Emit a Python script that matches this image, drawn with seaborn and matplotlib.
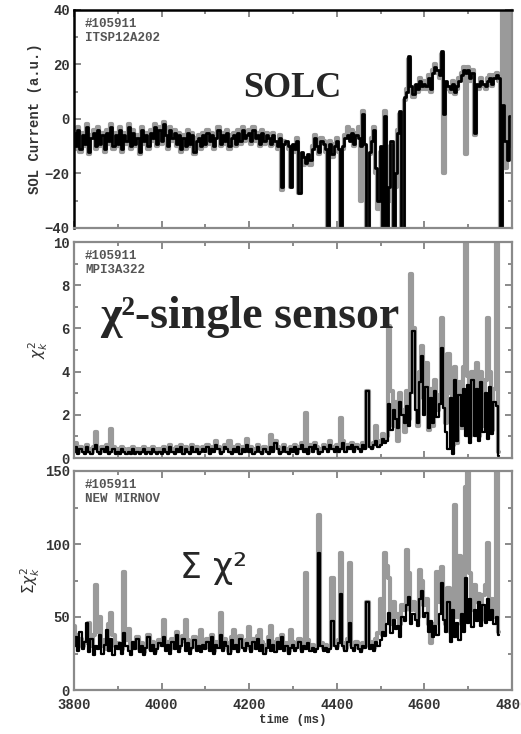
import numpy as np
import pandas as pd
import matplotlib
matplotlib.use("Agg")
import matplotlib.pyplot as plt
import seaborn as sns
from matplotlib.ticker import MultipleLocator

# ---------------- data ----------------
# time grid in ms (5 ms sampling)
time_top = np.arange(3800, 4800, 5)
time_low = np.arange(3800, 4775, 5)

# SOL current (a.u.) - black trace
solc_black = [
    -5, -10, -4, -11, -6, -9, -3, -12, -7, -5, -10, -4, -9, -6, -11, -5, -8, -3, -10, -6,
    -9, -4, -11, -6, -8, -3, -10, -5, -9, -7, -12, -4, -8, -6, -10, -5, -7, -3, -9, -4,
    -8, -2, -6, -10, -4, -7, -5, -9, -6, -11, -7, -10, -5, -9, -6, -12, -8, -7, -10, -6,
    -9, -5, -8, -6, -10, -7, -4, -9, -6, -8, -5, -10, -7, -6, -9, -5, -8, -4, -7, -6,
    -5, -8, -4, -7, -6, -9, -5, -8, -6, -7, -9, -6, -8, -10, -7, -25, -9, -8, -10, -25,
    -9, -11, -8, -27, -12, -14, -16, -13, -15, -11, -7, -10, -12, -8, -9, -11, -40, -9, -13, -10,
    -8, -11, -40, -10, -7, -6, -8, -5, -9, -6, -7, -10, 2, -9, -40, -12, -8, -4, -18, -30,
    -10, -40, 1, -40, -25, -8, -40, -20, -5, 3, -40, 8, 10, 23, 12, 9, 13, 11, 14, 12,
    13, 12, 15, 11, 17, 19, 18, 16, 25, 2, 14, 12, 11, 13, 10, 12, 14, 16, 18, 17,
    18, 15, 17, -5, 13, 12, 14, 13, 12, 14, 15, 13, 15, 16, 15, -40, 5, -8, -15, 1,
]
# SOL current - grey trace
solc_grey = [
    -4, -11, -3, -12, -5, -10, -2, -13, -6, -4, -11, -3, -10, -5, -12, -4, -9, -2, -11, -5,
    -10, -3, -12, -5, -9, -2, -11, -4, -10, -6, -13, -3, -9, -5, -11, -4, -8, -2, -10, -3,
    -9, -1, -5, -11, -3, -8, -4, -10, -5, -12, -6, -11, -4, -10, -5, -13, -7, -6, -11, -5,
    -10, -4, -9, -5, -11, -6, -3, -10, -5, -9, -4, -11, -6, -5, -10, -4, -9, -3, -8, -5,
    -4, -9, -3, -8, -5, -10, -4, -9, -5, -6, -10, -5, -9, -11, -6, -26, -8, -9, -11, -25,
    -10, -12, -7, -27, -13, -17, -15, -14, -17, -10, -6, -11, -13, -7, -8, -12, -40, -8, -14, -9,
    -7, -12, -40, -11, -6, -3, -7, -4, -10, -5, -3, -30, 3, -10, -40, -13, -7, -3, -20, -33,
    -12, -40, 3, -40, -30, -10, -40, -25, -4, 2, -40, 7, 11, 22, 10, 8, 12, 10, 15, 11,
    14, 11, 16, 10, 18, 20, 17, 15, 24, -20, 13, 11, 10, 14, 9, 11, 15, 17, 19, -13,
    19, 14, 18, -6, 12, 11, 15, 12, 11, 15, 16, 12, 16, 17, 14, -40, 40, -18, 40, -10,
]

# chi^2 single sensor - black trace
chi_black = [
    0.3, 0.5, 0.2, 0.4, 0.3, 0.2, 0.5, 0.3, 0.2, 0.4, 0.6, 0.3, 0.2, 0.4, 0.3, 0.5, 0.2, 0.3, 0.4, 0.2,
    0.3, 0.2, 0.4, 0.3, 0.2, 0.3, 0.2, 0.4, 0.2, 0.3, 0.2, 0.3, 0.4, 0.2, 0.3, 0.2, 0.4, 0.3, 0.2, 0.3,
    0.2, 0.4, 0.3, 0.2, 0.5, 0.3, 0.2, 0.4, 0.3, 0.5, 0.2, 0.4, 0.3, 0.2, 0.5, 0.3, 0.4, 0.2, 0.3, 0.4,
    0.3, 0.5, 0.2, 0.4, 0.3, 0.6, 0.4, 0.2, 0.3, 0.5, 0.4, 0.3, 0.2, 0.4, 0.3, 0.5, 0.2, 0.4, 0.3, 0.6,
    0.3, 0.4, 0.2, 0.3, 0.5, 0.3, 0.2, 0.4, 0.3, 0.2, 0.5, 0.3, 0.7, 0.4, 0.2, 0.3, 0.5, 0.3, 0.2, 0.4,
    0.3, 0.5, 0.2, 0.4, 0.6, 0.3, 0.4, 0.2, 0.5, 0.3, 0.6, 0.4, 0.2, 0.3, 0.5, 0.4, 0.3, 0.6, 0.4, 0.3,
    0.5, 0.3, 0.4, 0.7, 0.3, 0.5, 0.4, 0.6, 0.3, 0.5, 0.4, 0.3, 0.6, 0.4, 3.1, 0.5, 0.4, 0.6, 0.8, 0.5,
    0.6, 0.9, 0.7, 0.8, 2.5, 1.3, 2.2, 1.8, 1.4, 2.6, 2.0, 1.6, 2.4, 1.5, 3.0, 5.9, 2.2, 1.6, 3.5, 4.7,
    2.0, 3.3, 1.4, 2.8, 1.6, 3.1, 1.9, 2.5, 5.1, 2.3, 1.2, 0.4, 2.8, 0.2, 3.6, 0.8, 2.9, 1.5, 3.2, 1.0,
    3.4, 0.7, 3.6, 1.0, 3.2, 0.8, 3.5, 1.2, 3.0, 0.9, 3.3, 1.1, 2.6, 2.4, 0.1,
]
# chi^2 single sensor - grey trace
chi_grey = [
    0.4, 0.7, 0.3, 0.5, 0.4, 0.3, 0.6, 0.4, 0.3, 0.5, 1.2, 0.4, 0.3, 0.5, 0.4, 0.6, 0.3, 1.35, 0.5, 0.3,
    0.4, 0.3, 0.5, 0.4, 0.3, 0.4, 0.3, 0.5, 0.3, 0.4, 0.3, 0.4, 0.5, 0.3, 0.4, 0.3, 0.5, 0.4, 0.3, 0.4,
    0.3, 0.5, 0.4, 0.3, 0.6, 0.4, 0.3, 0.5, 0.4, 0.6, 0.3, 0.5, 0.4, 0.3, 0.6, 0.4, 0.5, 0.3, 0.4, 0.5,
    0.4, 0.6, 0.3, 0.5, 0.4, 0.8, 0.5, 0.3, 0.4, 0.6, 0.5, 0.8, 0.3, 0.5, 0.4, 0.6, 0.3, 0.5, 0.4, 0.9,
    0.4, 0.5, 0.3, 0.4, 0.6, 0.4, 0.3, 0.5, 0.4, 0.3, 1.05, 0.4, 0.8, 0.5, 0.3, 0.4, 0.6, 0.4, 0.3, 0.5,
    0.4, 0.6, 0.3, 0.5, 0.7, 0.4, 2.1, 0.3, 0.6, 0.4, 0.7, 0.5, 0.3, 0.4, 0.6, 0.5, 0.4, 0.8, 0.5, 0.4,
    0.6, 0.4, 1.85, 0.8, 0.4, 0.6, 0.5, 0.7, 0.4, 0.6, 0.5, 0.4, 0.7, 0.5, 3.1, 0.6, 0.5, 0.7, 1.5, 0.6,
    0.8, 1.1, 0.9, 1.0, 6.1, 3.1, 1.5, 2.6, 0.8, 3.0, 2.2, 1.2, 3.1, 1.8, 8.5, 6.0, 3.0, 1.5, 4.0, 5.2,
    2.8, 4.4, 1.3, 3.2, 1.5, 3.6, 2.2, 2.9, 6.5, 2.8, 1.6, 4.8, 3.0, 0.6, 4.2, 0.7, 3.5, 1.4, 4.2, 10.0,
    3.8, 1.0, 4.0, 1.2, 4.4, 1.0, 4.0, 1.5, 3.6, 6.5, 4.0, 1.3, 3.2, 10.0, 0.3,
]

# sum chi^2 (Mirnov array) - black trace
sum_black = [
    30, 36, 27, 40, 28, 33, 46, 26, 35, 24, 30, 28, 38, 25, 31, 41, 27, 35, 24, 30,
    28, 32, 25, 39, 30, 27, 24, 33, 28, 35, 26, 30, 24, 29, 36, 27, 31, 25, 28, 32,
    30, 36, 27, 31, 25, 33, 28, 38, 26, 30, 35, 27, 32, 25, 29, 34, 27, 30, 26, 31,
    28, 33, 27, 36, 25, 31, 29, 38, 27, 33, 30, 25, 34, 28, 31, 26, 35, 29, 27, 32,
    30, 26, 33, 28, 35, 27, 31, 25, 29, 34, 27, 31, 26, 33, 28, 36, 27, 30, 25, 29,
    31, 27, 29, 33, 26, 30, 28, 32, 27, 29, 26, 28, 94, 30, 27, 29, 26, 28, 47, 30,
    28, 32, 66, 30, 27, 33, 46, 29, 27, 31, 28, 26, 30, 29, 60, 28, 31, 27, 33, 30,
    34, 40, 37, 45, 53, 39, 48, 42, 44, 36, 50, 47, 58, 64, 45, 52, 48, 44, 62, 68,
    50, 53, 40, 47, 36, 44, 38, 52, 73, 48, 40, 60, 33, 55, 36, 46, 34, 52, 40, 77,
    46, 62, 43, 55, 47, 60, 44, 58, 46, 62, 48, 55, 45, 50, 38,
]
# sum chi^2 - grey trace
sum_grey = [
    44, 38, 30, 35, 30, 32, 33, 46, 30, 38, 72, 40, 50, 30, 34, 28, 45, 53, 38, 30,
    32, 30, 28, 81, 34, 42, 28, 32, 30, 36, 28, 32, 26, 30, 38, 28, 33, 27, 30, 34,
    32, 48, 30, 33, 28, 35, 30, 40, 29, 33, 37, 48, 34, 28, 31, 36, 29, 32, 41, 33,
    30, 35, 29, 38, 27, 33, 31, 53, 29, 35, 32, 27, 36, 41, 33, 28, 37, 31, 29, 34,
    43, 28, 35, 30, 37, 41, 33, 27, 31, 36, 44, 33, 28, 35, 30, 38, 29, 32, 27, 41,
    33, 29, 31, 35, 28, 32, 80, 34, 29, 31, 28, 30, 120, 32, 29, 31, 28, 30, 77, 32,
    30, 34, 94, 32, 29, 35, 87, 31, 29, 33, 30, 28, 32, 31, 60, 30, 33, 29, 35, 39,
    62, 38, 94, 85, 77, 45, 60, 50, 52, 45, 58, 55, 96, 80, 55, 60, 55, 50, 82, 75,
    58, 62, 45, 32, 40, 45, 81, 60, 84, 55, 45, 70, 40, 60, 127, 50, 92, 45, 60, 139,
    150, 80, 55, 72, 60, 66, 48, 65, 72, 101, 55, 62, 50, 150, 40,
]

shot_label = "#105911"
panel_ids = ["ITSP12A202", "MPI3A322", "NEW MIRNOV"]
overlay_titles = ["SOLC", "χ²-single sensor", "Σ χ²"]
ylabels = ["SOL Current (a.u.)", r"$\chi_k^2$", r"$\Sigma\chi_k^2$"]
xticks = [3800, 4000, 4200, 4400, 4600, 4800]
yticks_top = [-40, -20, 0, 20, 40]
yticks_mid = [0, 2, 4, 6, 8, 10]
yticks_bot = [0, 50, 100, 150]

# ---------------- figure ----------------
sns.set_style("ticks")
plt.rcParams["font.family"] = ["Liberation Mono", "DejaVu Sans"]
plt.rcParams["mathtext.fontset"] = "dejavusans"

fig = plt.figure(figsize=(5.21, 7.34), dpi=100)
L, W = 74 / 521, 438 / 521
ax1 = fig.add_axes([L, 1 - 228 / 734, W, 218 / 734])
ax2 = fig.add_axes([L, 1 - 458 / 734, W, 216 / 734])
ax3 = fig.add_axes([L, 1 - 690 / 734, W, 219 / 734])

grey = "#9a9a9a"
df1 = pd.DataFrame({"t": time_top, "black": solc_black, "grey": solc_grey})
df2 = pd.DataFrame({"t": time_low, "black": chi_black, "grey": chi_grey})
df3 = pd.DataFrame({"t": time_low, "black": sum_black, "grey": sum_grey})

for ax, df, lwb in [(ax1, df1, 2.0), (ax2, df2, 1.6), (ax3, df3, 1.6)]:
    sns.lineplot(data=df, x="t", y="grey", ax=ax, color=grey, lw=3.0,
                 drawstyle="steps-mid", estimator=None, sort=False)
    sns.lineplot(data=df, x="t", y="black", ax=ax, color="black", lw=lwb,
                 drawstyle="steps-mid", estimator=None, sort=False)

limits = [(-40, 40, yticks_top, 10), (0, 10, yticks_mid, 1), (0, 150, yticks_bot, 25)]
for i, (ax, (lo, hi, yt, ym)) in enumerate(zip([ax1, ax2, ax3], limits)):
    ax.set_xlim(3800, 4800)
    ax.set_ylim(lo, hi)
    ax.set_xticks(xticks)
    ax.xaxis.set_minor_locator(MultipleLocator(100))
    ax.set_yticks(yt)
    ax.yaxis.set_minor_locator(MultipleLocator(ym))
    ax.tick_params(which="both", direction="in", top=True, right=True,
                   color="#777777", width=1.2)
    ax.tick_params(which="major", length=5)
    ax.tick_params(which="minor", length=3)
    ax.tick_params(axis="y", which="major", pad=3)
    ax.tick_params(axis="x", which="major", pad=6)
    for lab in ax.get_yticklabels() + ax.get_xticklabels():
        lab.set_fontweight("bold")
        lab.set_fontsize(10)
        lab.set_color("#333333")
    if i < 2:
        ax.set_xticklabels([])
    ax.set_xlabel("")
    ax.set_ylabel(ylabels[i], fontsize=10 if i == 0 else 11, fontweight="bold",
                  color="#333333", labelpad=2)
    for sp in ax.spines.values():
        sp.set_color("#8a8a8a")
        sp.set_linewidth(1.6)
    ax.text(0.025, 0.965, shot_label + "\n" + panel_ids[i], transform=ax.transAxes,
            ha="left", va="top", fontsize=9, fontweight="bold",
            color="#555555", linespacing=1.25)

ax1.spines["top"].set_color("black")
ax1.spines["left"].set_color("black")
ax1.spines["top"].set_linewidth(1.8)
ax1.spines["left"].set_linewidth(1.8)

ax3.set_xlabel("time (ms)", fontsize=9, fontweight="bold", color="#333333", labelpad=1)

# overlay titles
fig.text(243 / 521, 1 - 97 / 734, overlay_titles[0], fontsize=26, fontweight="bold",
         family=["Liberation Serif", "DejaVu Serif"], ha="left", va="baseline")
fig.text(100 / 521, 1 - 328 / 734, overlay_titles[1], fontsize=33, fontweight="bold",
         family=["Liberation Serif", "DejaVu Serif"], ha="left", va="baseline")
fig.text(180 / 521, 1 - 578 / 734, overlay_titles[2], fontsize=25,
         family=["DejaVu Sans"], ha="left", va="baseline")

fig.savefig("out.png", dpi=100)
